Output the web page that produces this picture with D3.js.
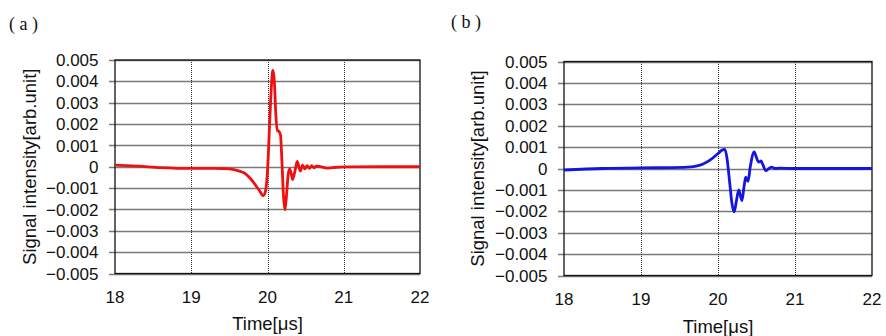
<!DOCTYPE html>
<html><head><meta charset="utf-8">
<script src="https://cdn.jsdelivr.net/npm/d3@7"></script>
<style>body{margin:0;background:#fff}svg{display:block}</style>
</head><body>
<svg id="c" width="886" height="336"></svg>
<script>
const xTicks = [18, 19, 20, 21, 22];
const yTicks = [0.005, 0.004, 0.003, 0.002, 0.001, 0, -0.001, -0.002, -0.003, -0.004, -0.005];
const xTitle = "Time[μs]";
const yTitle = "Signal intensity[arb.unit]";

const timeA = [18.0, 18.3, 18.6, 19.0, 19.3, 19.5, 19.6, 19.7, 19.77, 19.85, 19.9, 19.94, 19.97, 20.0, 20.03, 20.05, 20.07, 20.09, 20.11, 20.13, 20.15, 20.17, 20.19, 20.21, 20.23, 20.25, 20.27, 20.29, 20.31, 20.33, 20.36, 20.39, 20.43, 20.46, 20.49, 20.52, 20.55, 20.58, 20.61, 20.64, 20.68, 20.72, 20.78, 20.85, 21.0, 21.5, 22.0];
const signalA = [0.00008, 0.00003, -0.00004, -0.00008, -0.00008, -0.0001, -0.00017, -0.0003, -0.00053, -0.0009, -0.00115, -0.00136, -0.0012, -0.0002, 0.0022, 0.0037, 0.00452, 0.0040, 0.0024, 0.0017, 0.00166, 0.0015, 0.0002, -0.0014, -0.00202, -0.0013, -0.0004, -0.0001, -0.0003, -0.0006, -0.0002, 0.00025, -0.0002, 0.00008, -0.0001, 0.00005, -0.00008, 0.00005, -0.00005, 0.00003, 0.00002, -0.00002, -0.00006, -0.00004, -0.00001, 0.0, 0.0];

const timeB = [18.0, 18.5, 19.0, 19.4, 19.6, 19.7, 19.8, 19.9, 20.0, 20.05, 20.09, 20.12, 20.15, 20.18, 20.21, 20.24, 20.27, 20.31, 20.34, 20.36, 20.39, 20.42, 20.47, 20.5, 20.53, 20.56, 20.58, 20.62, 20.66, 20.7, 20.74, 20.8, 21.0, 21.5, 22.0];
const signalB = [-0.00007, 0.0, 0.00003, 0.00004, 0.00006, 0.0001, 0.0002, 0.0004, 0.0007, 0.00085, 0.00089, 0.0004, -0.0006, -0.0016, -0.00203, -0.0015, -0.001, -0.0015, -0.0008, -0.0004, -0.0006, 0.0001, 0.00078, 0.0005, 0.0003, 0.00035, 0.0002, -0.0001, 0.0, 0.00006, 0.0, 0.00002, 0.0, 0.0, 0.0];

const panels = [
  {label: "( a )", lx: 9, ly: 30, t: timeA, v: signalA, color: "#ee1111",
   x0: 115, x1: 420, y0: 60, y1: 273.5, ytx: 98.5, ylx: 30, xly: 303, xtly: 330},
  {label: "( b )", lx: 451, ly: 28, t: timeB, v: signalB, color: "#1515e0",
   x0: 564, x1: 872, y0: 61.5, y1: 275.5, ytx: 547.5, ylx: 478, xly: 305, xtly: 333}
];

const svg = d3.select("#c");
const font = "'Liberation Sans', Arial, sans-serif";
const crisp = v => Math.round(v) + 0.5;

panels.forEach(p => {
  const x = d3.scaleLinear().domain([18, 22]).range([p.x0, p.x1]);
  const y = d3.scaleLinear().domain([-0.005, 0.005]).range([p.y1, p.y0]);
  const g = svg.append("g");

  g.selectAll("line.h").data(yTicks).enter().append("line")
    .attr("x1", p.x0 - 6).attr("x2", p.x1)
    .attr("y1", d => crisp(y(d))).attr("y2", d => crisp(y(d)))
    .attr("stroke", "#7a7a7a").attr("stroke-width", 1.3);
  g.selectAll("line.v").data(xTicks.slice(1, -1)).enter().append("line")
    .attr("x1", d => crisp(x(d))).attr("x2", d => crisp(x(d)))
    .attr("y1", Math.round(p.y0)).attr("y2", Math.round(p.y1))
    .attr("stroke", "#333").attr("stroke-width", 1).attr("stroke-dasharray", "1,1");
  g.append("rect").attr("x", p.x0).attr("y", p.y0)
    .attr("width", p.x1 - p.x0).attr("height", p.y1 - p.y0)
    .attr("fill", "none").attr("stroke", "#111").attr("stroke-width", 1.3);

  g.selectAll("text.yt").data(yTicks).enter().append("text")
    .attr("x", p.ytx).attr("y", d => y(d)).attr("dy", "0.36em")
    .attr("text-anchor", "end").attr("font-family", font).attr("font-size", 17)
    .attr("fill", "#111")
    .text(d => d === 0 ? "0" : (d < 0 ? "\u2212" : "") + Math.abs(d).toFixed(3));
  g.selectAll("text.xt").data(xTicks).enter().append("text")
    .attr("x", d => x(d)).attr("y", p.xly)
    .attr("text-anchor", "middle").attr("font-family", font).attr("font-size", 17)
    .attr("fill", "#111").text(d => d);
  g.append("text").attr("x", (p.x0 + p.x1) / 2).attr("y", p.xtly)
    .attr("text-anchor", "middle").attr("font-family", font).attr("font-size", 18.5)
    .attr("fill", "#111").text(xTitle);
  g.append("text").attr("transform", `translate(${p.ylx},${(p.y0 + p.y1) / 2}) rotate(-90)`)
    .attr("dy", "0.35em")
    .attr("text-anchor", "middle").attr("font-family", font).attr("font-size", 18.5)
    .attr("fill", "#111").text(yTitle);
  g.append("text").attr("x", p.lx).attr("y", p.ly)
    .attr("font-family", "'Liberation Serif', 'Times New Roman', serif").attr("font-size", 18)
    .attr("fill", "#111").text(p.label);

  const pts = p.t.map((t, i) => [t, p.v[i]]);
  g.append("path").datum(pts)
    .attr("d", d3.line().x(d => x(d[0])).y(d => y(d[1])).curve(d3.curveMonotoneX))
    .attr("fill", "none").attr("stroke", p.color).attr("stroke-width", 2.8)
    .attr("stroke-linejoin", "round");
});
</script>
</body></html>
